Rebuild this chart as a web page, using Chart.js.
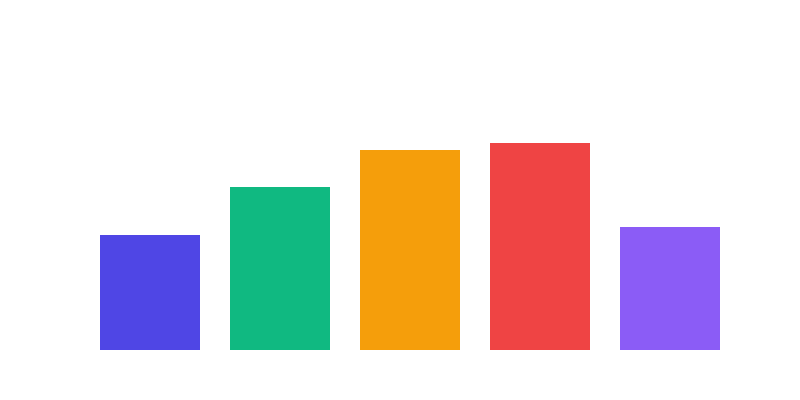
<!DOCTYPE html>
<html>
<head>
<meta charset="utf-8">
<script src="https://cdn.jsdelivr.net/npm/chart.js@4/dist/chart.umd.min.js"></script>
<style>
  html, body { margin: 0; padding: 0; background: #fff; }
  #wrap { width: 800px; height: 400px; }
</style>
</head>
<body>
<div id="wrap"><canvas id="barChart"></canvas></div>
<script>
const labels = ["A", "B", "C", "D", "E"];
const values = [115, 163, 200, 207, 123];
const colors = ["#4F46E5", "#10B981", "#F59E0B", "#EF4444", "#8B5CF6"];

var ctx = document.getElementById("barChart").getContext("2d");
var chart = new Chart(ctx, {
  type: "bar",
  data: {
    labels: labels,
    datasets: [
      {
        data: values,
        backgroundColor: colors,
        borderWidth: 0,
        barPercentage: 1,
        categoryPercentage: 100 / 130,
      },
    ],
  },
  options: {
    responsive: true,
    maintainAspectRatio: false,
    animation: false,
    layout: { padding: { left: 85, right: 65, top: 50, bottom: 50 } },
    plugins: { legend: { display: false }, tooltip: { enabled: false } },
    scales: {
      x: { display: false },
      y: { display: false, min: 0, max: 300 },
    },
  },
});
</script>
</body>
</html>
